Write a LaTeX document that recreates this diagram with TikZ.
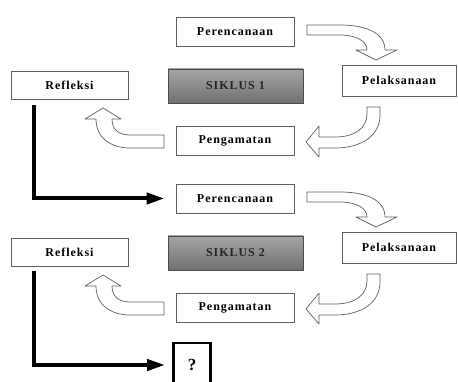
\documentclass[tikz,border=0pt]{standalone}
\usepackage{fontspec}
\setmainfont{Liberation Serif}
\newfontfamily\boxfont[LetterSpace=8]{Liberation Serif}
\usetikzlibrary{arrows.meta}
\definecolor{sktop}{RGB}{165,165,165}
\definecolor{skbot}{RGB}{112,112,112}
\definecolor{bord}{RGB}{95,95,95}
\tikzset{
  stagebox/.style={draw=bord, line width=0.9pt, fill=white, inner sep=0pt,
    font=\boxfont\fontsize{12}{14}\selectfont\bfseries},
  cyclebox/.style={draw=bord!80!black, line width=0.9pt, top color=sktop, bottom color=skbot,
    inner sep=0pt, font=\boxfont\fontsize{12}{14}\selectfont\bfseries, text=black!85},
  blockarrow/.style={draw=gray!75!black, line width=0.7pt, fill=white, line join=round},
  larr/.style={line width=4pt, -{Triangle[length=18pt,width=11pt]}},
  qbox/.style={draw=black, line width=2.8pt, inner sep=0pt, minimum width=37pt, minimum height=44pt,
    font=\fontsize{17}{19}\selectfont\bfseries}
}
\begin{document}
\begin{tikzpicture}[x=1pt,y=-1pt]
\clip (0,0) rectangle (458,382);
\fill[white] (0,0) rectangle (458,382);
\foreach \dy/\n in {0/1,167/2}{
  \begin{scope}[yshift=-\dy pt]
    \node[stagebox, minimum width=118pt, minimum height=29pt] (per\n) at (235,31.5) {Perencanaan};
    \node[stagebox, minimum width=117pt, minimum height=28pt] (ref\n) at (69.5,85) {Refleksi};
    \node[cyclebox, minimum width=135pt, minimum height=34pt] (sik\n) at (235.5,86) {SIKLUS \n};
    \node[stagebox, minimum width=114pt, minimum height=31pt] (pel\n) at (399,80.5) {Pelaksanaan};
    \node[stagebox, minimum width=118pt, minimum height=29pt] (pen\n) at (235,140.5) {Pengamatan};
    % Perencanaan -> Pelaksanaan
    \draw[blockarrow] (307,25) -- (340,25) .. controls (366,25) and (385,33) .. (385,50)
      -- (397,50) -- (376,60) -- (356,50) -- (367,50)
      .. controls (367,41) and (356,35) .. (340,35) -- (307,35) -- cycle;
    % Pelaksanaan -> Pengamatan
    \draw[blockarrow] (367,107) -- (380,107) -- (380,115)
      .. controls (380,136) and (361,148) .. (335,148) -- (319,148) -- (319,157)
      -- (306,142) -- (319,126) -- (319,137) -- (335,137)
      .. controls (355,137) and (367,128) .. (367,114) -- cycle;
    % Pengamatan -> Refleksi
    \draw[blockarrow] (164,135) -- (130,135) .. controls (118,135) and (112,129) .. (112,119)
      -- (121,119) -- (103,108) -- (85,119) -- (96,119)
      .. controls (96,138) and (111,148) .. (130,148) -- (164,148) -- cycle;
  \end{scope}
}
\node[qbox] (q) at (192,365) {?};
\draw[larr] ([shift={(23,6)}]ref1.south west) |- ([xshift=-11pt]per2.west);
\draw[larr] ([shift={(23,5)}]ref2.south west) |- ([xshift=-7pt]q.west);
\end{tikzpicture}
\end{document}
